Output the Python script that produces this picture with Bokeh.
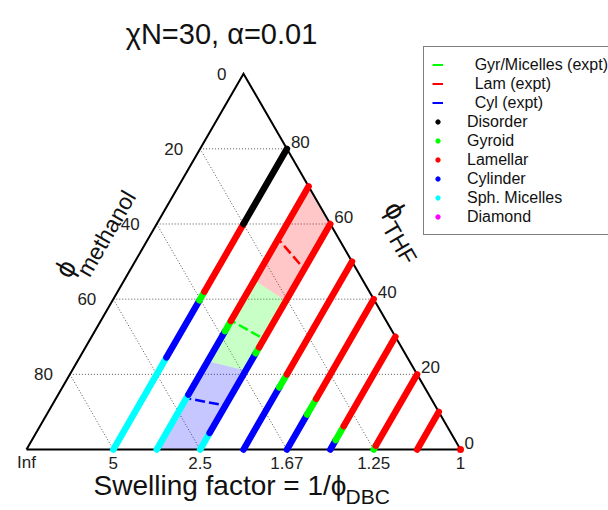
import numpy as np
from bokeh.plotting import figure
from bokeh.models import Range1d, Legend, LegendItem, Label
from bokeh.core.properties import value
from bokeh.embed import file_html
from bokeh.resources import INLINE

FONT = "Liberation Sans"

# ---------------------------------------------------------------- data
# Calculated phase sequence along lines of constant phi_DBC.  Each entry is
# one phase interval, given by the THF volume fraction where it starts/ends.
seg_dbc = [0.2, 0.2, 0.2, 0.2, 0.2,
           0.3, 0.3, 0.3, 0.3,
           0.4, 0.4, 0.4, 0.4,
           0.5, 0.5, 0.5,
           0.6, 0.6, 0.6,
           0.7, 0.7, 0.7,
           0.8, 0.8,
           0.9,
           1.0]
seg_phase = ["Sph. Micelles", "Cylinder", "Gyroid", "Lamellar", "Disorder",
             "Sph. Micelles", "Cylinder", "Gyroid", "Lamellar",
             "Sph. Micelles", "Cylinder", "Gyroid", "Lamellar",
             "Cylinder", "Gyroid", "Lamellar",
             "Cylinder", "Gyroid", "Lamellar",
             "Cylinder", "Gyroid", "Lamellar",
             "Gyroid", "Lamellar",
             "Lamellar",
             "Lamellar"]
seg_thf_from = [0.0, 0.245, 0.397, 0.42, 0.60,
                0.0, 0.146, 0.315, 0.342,
                0.0, 0.044, 0.256, 0.272,
                0.0, 0.165, 0.20,
                0.0, 0.093, 0.135,
                0.0, 0.025, 0.062,
                0.0, 0.01,
                0.0,
                0.0]
seg_thf_to = [0.245, 0.397, 0.42, 0.60, 0.80,
              0.146, 0.315, 0.342, 0.70,
              0.044, 0.256, 0.272, 0.60,
              0.165, 0.20, 0.50,
              0.093, 0.135, 0.40,
              0.025, 0.062, 0.30,
              0.01, 0.20,
              0.10,
              0.0]

# Experimental results between phi_DBC = 0.3 and 0.4
expt_dbc = [0.3, 0.4]
expt_phase = ["Lam", "Gyr/Micelles", "Cyl"]
expt_thf_share = [0.80, 0.49, 0.195]        # THF share of the solvent mixture
win_low_03 = [0.45, 0.235, 0.0]              # observed windows, THF fraction
win_high_03 = [0.70, 0.45, 0.235]
win_low_04 = [0.395, 0.21, 0.0]
win_high_04 = [0.60, 0.395, 0.21]

grid_vals = [0.2, 0.4, 0.6, 0.8]
methanol_ticks = [0, 20, 40, 60, 80]
thf_ticks = [0, 20, 40, 60, 80]
dbc_ticks = [0.0, 0.2, 0.4, 0.6, 0.8, 1.0]
swell_labels = ["Inf", "5", "2.5", "1.67", "1.25", "1"]

legend_phases = ["Disorder", "Gyroid", "Lamellar", "Cylinder", "Sph. Micelles", "Diamond"]

# ---------------------------------------------------------------- styles
PHASE_COLOR = {"Disorder": "#000000", "Gyroid": "#00ff00", "Lamellar": "#ff0000",
               "Cylinder": "#0000ff", "Sph. Micelles": "#00ffff", "Diamond": "#ff00ff"}
EXPT_COLOR = {"Gyr/Micelles": "#00ff00", "Lam": "#ff0000", "Cyl": "#0000ff"}
EXPT_ORDER = ["Gyr/Micelles", "Lam", "Cyl"]

W, H = 608, 510
PX = 434.0                 # pixels per ternary unit
X0, Y0 = 26, 449           # screen position of the phi_DBC = 0 corner
S3 = np.sqrt(3) / 2


def tern(d, t):
    """(phi_DBC, phi_THF) -> cartesian position in the ternary frame."""
    d = np.asarray(d, float)
    t = np.asarray(t, float)
    return d + t / 2, t * S3


def scr(x, y):
    """screen pixel position -> frame coordinates (for annotations)."""
    return (x - X0) / PX, (Y0 - y) / PX


p = figure(width=W, height=H, output_backend="svg", toolbar_location=None,
           x_range=Range1d(-X0 / PX, (W - X0) / PX),
           y_range=Range1d(-(H - Y0) / PX, Y0 / PX),
           x_axis_type=None, y_axis_type=None,
           min_border=0, min_border_left=0, min_border_right=0,
           min_border_top=0, min_border_bottom=0)
p.grid.visible = False
p.outline_line_color = None
p.background_fill_color = "white"
p.border_fill_color = "white"

# dotted grid: constant THF (horizontal) and constant methanol
gx, gy = [], []
for g in grid_vals:
    a = tern([0, 1 - g], [g, g])
    gx.append(list(a[0])); gy.append(list(a[1]))
    b = tern([0, 1 - g], [1 - g, 0])
    gx.append(list(b[0])); gy.append(list(b[1]))
p.multi_line(gx, gy, line_color="#555555", line_width=1, line_dash="1 2")

# shaded experimental windows
px_, py_ = [], []
for lo3, hi3, lo4, hi4 in zip(win_low_03, win_high_03, win_low_04, win_high_04):
    x, y = tern([expt_dbc[0], expt_dbc[1], expt_dbc[1], expt_dbc[0]], [lo3, lo4, hi4, hi3])
    px_.append(list(x)); py_.append(list(y))
p.patches(px_, py_, fill_color=[EXPT_COLOR[k] for k in expt_phase],
          fill_alpha=0.22, line_color=None)

# triangle frame
fx, fy = tern([0, 1, 0, 0], [0, 0, 1, 0])
p.line(fx, fy, line_color="black", line_width=2, line_join="miter")

# experimental solvent-ratio lines
ex, ey = [], []
for s in expt_thf_share:
    d = np.array(expt_dbc)
    x, y = tern(d, (1 - d) * s)
    ex.append(list(x)); ey.append(list(y))
p.multi_line(ex, ey, line_color=[EXPT_COLOR[k] for k in expt_phase],
             line_width=2.5, line_dash="10 4", line_dash_offset=5)

# calculated phase lines
lx, ly, lc, dx, dy, dc = [], [], [], [], [], []
for d, ph, t0, t1 in zip(seg_dbc, seg_phase, seg_thf_from, seg_thf_to):
    x, y = tern([d, d], [t0, t1])
    if t1 > t0:
        lx.append(list(x)); ly.append(list(y)); lc.append(PHASE_COLOR[ph])
    else:
        dx.append(x[0]); dy.append(y[0]); dc.append(PHASE_COLOR[ph])
p.multi_line(lx, ly, line_color=lc, line_width=6.5, line_cap="round")
p.scatter(dx, dy, marker="circle", size=7, fill_color=dc, line_color=None)

# tick labels
tick_style = dict(text_font=value(FONT), text_font_size="17px", text_color="#222222")
mx, my = tern([0] * 5, [1 - m / 100 for m in methanol_ticks])
p.text(x=list(mx - 17 / PX), y=list(my), text=[str(m) for m in methanol_ticks],
       text_align="right", text_baseline="middle", **tick_style)
tx, ty = tern([1 - t / 100 for t in thf_ticks], [t / 100 for t in thf_ticks])
p.text(x=list(tx + 4 / PX), y=list(ty + 7 / PX), text=[str(t) for t in thf_ticks],
       text_align="left", text_baseline="middle", **tick_style)
bx, by = tern(dbc_ticks, [0] * len(dbc_ticks))
p.text(x=list(bx), y=list(by - 13 / PX), text=swell_labels,
       text_align="center", text_baseline="middle", **tick_style)


# titles
def label(text, xy, size, align="left", angle=0.0):
    x, y = scr(*xy)
    p.add_layout(Label(x=x, y=y, text=text, text_font=FONT, text_font_size=size,
                       text_align=align, text_baseline="middle", angle=angle,
                       text_color="#111111"))


label("\u03c7N=30, \u03b1=0.01", (221, 33), "29px", align="center")
label("Swelling factor = 1/\u03d5", (93, 485), "28px")
label("DBC", (345, 496), "21px")
label("\u03d5", (65, 268), "28px", align="center", angle=np.pi / 3)
label("methanol", (82, 274), "23px", angle=np.pi / 3)
label("\u03d5", (395, 210), "28px", align="center", angle=-np.pi / 3)
label("THF", (388, 223), "23px", angle=-np.pi / 3)

# legend (its glyph renderers hold no visible points)
NAN = [float("nan")]
items = []
for k, lab in zip(EXPT_ORDER, ["Gyr/Micelles (expt)", "Lam (expt)", "Cyl (expt)"]):
    r = p.line(x=NAN, y=NAN, line_color=EXPT_COLOR[k], line_width=2)
    items.append(LegendItem(label="\u00a0\u2009" + lab, renderers=[r]))
for ph in legend_phases:
    r = p.scatter(x=NAN, y=NAN, marker="circle", size=6,
                  fill_color=PHASE_COLOR[ph], line_color=PHASE_COLOR[ph])
    items.append(LegendItem(label=ph, renderers=[r]))

legend = Legend(items=items, location=(423, H - 235), margin=0, padding=8, spacing=0,
                label_height=19, glyph_height=19, glyph_width=11, label_standoff=24,
                label_text_font=FONT, label_text_font_size="16px",
                label_text_baseline="middle", label_text_color="#111111",
                border_line_color="black", border_line_width=1,
                background_fill_color="white", background_fill_alpha=1.0)
p.add_layout(legend)

open("out.html", "w").write(file_html(p, INLINE))
